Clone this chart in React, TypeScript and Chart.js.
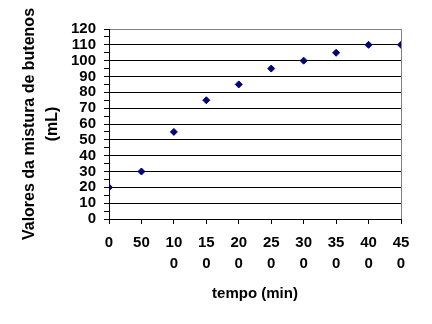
import React, { useEffect, useRef } from "react";
import { Chart, registerables } from "chart.js";

Chart.register(...registerables);

const timeValues = [0, 50, 100, 150, 200, 250, 300, 350, 400, 450];
const butenoValues = [20, 30, 55, 75, 85, 95, 100, 105, 110, 110];
const xTickLabels: string[][] = [
  ["0"], ["50"], ["10", "0"], ["15", "0"], ["20", "0"],
  ["25", "0"], ["30", "0"], ["35", "0"], ["40", "0"], ["45", "0"],
];
const yTitle = ["Valores da mistura de butenos", "(mL)"];
const xTitle = "tempo (min)";

export default function App() {
  const ref = useRef<HTMLCanvasElement | null>(null);

  useEffect(() => {
    document.body.style.margin = "0";
    document.body.style.background = "#ffffff";
    if (!ref.current) return;
    Chart.defaults.font.family = "'Liberation Sans', Arial, sans-serif";
    Chart.defaults.color = "#000000";
    const chart = new Chart(ref.current, {
      type: "scatter",
      data: {
        datasets: [
          {
            data: timeValues.map((t, i) => ({ x: t, y: butenoValues[i] })),
            backgroundColor: "#000080",
            borderColor: "#000080",
            pointStyle: "rectRot",
            pointRadius: 3.5,
            borderWidth: 1,
          },
        ],
      },
      options: {
        animation: false,
        responsive: false,
        layout: { padding: { left: 0, top: 29, right: 31, bottom: 0 } },
        plugins: { legend: { display: false }, tooltip: { enabled: false } },
        scales: {
          x: {
            type: "linear",
            min: 0,
            max: 450,
            afterFit: (s: any) => {
              s.height = 105;
            },
            ticks: {
              stepSize: 50,
              autoSkip: false,
              maxRotation: 0,
              padding: 8,
              font: { size: 15, weight: "bold", lineHeight: 1.4 },
              color: "#000000",
              callback: (_v: any, i: number) => xTickLabels[i],
            },
            grid: {
              color: (ctx: any) =>
                ctx.tick && ctx.tick.value === 450 ? "#808080" : "rgba(0,0,0,0)",
              tickColor: "#000000",
              tickLength: 5,
              lineWidth: 1,
            },
            border: { display: true, color: "#000000", width: 1 },
            title: {
              display: true,
              text: xTitle,
              font: { size: 15, weight: "bold", lineHeight: 1.2 },
              color: "#000000",
              padding: { top: 0, bottom: 21 },
            },
          },
          y: {
            min: 0,
            max: 120,
            afterFit: (s: any) => {
              s.width = 109;
            },
            ticks: {
              stepSize: 5,
              autoSkip: false,
              padding: 8,
              font: { size: 15, weight: "bold", lineHeight: 1.2 },
              color: "#000000",
              callback: (v: any) => (Number(v) % 10 === 0 ? String(v) : ""),
            },
            grid: {
              color: (ctx: any) => {
                const v = ctx.tick ? ctx.tick.value : 0;
                if (v === 120) return "#808080";
                if (v % 10 === 0) return "#000000";
                return "rgba(0,0,0,0)";
              },
              tickColor: "#000000",
              tickLength: 5,
              lineWidth: 1,
            },
            border: { display: true, color: "#000000", width: 1 },
            title: {
              display: true,
              text: yTitle,
              font: { size: 16, weight: "bold", lineHeight: 1.4375 },
              color: "#000000",
              padding: { top: 18.5, bottom: 0 },
            },
          },
        },
      },
    });
    return () => chart.destroy();
  }, []);

  return (
    <div style={{ width: 432, height: 324, background: "#ffffff" }}>
      <canvas ref={ref} width={432} height={324} />
    </div>
  );
}
